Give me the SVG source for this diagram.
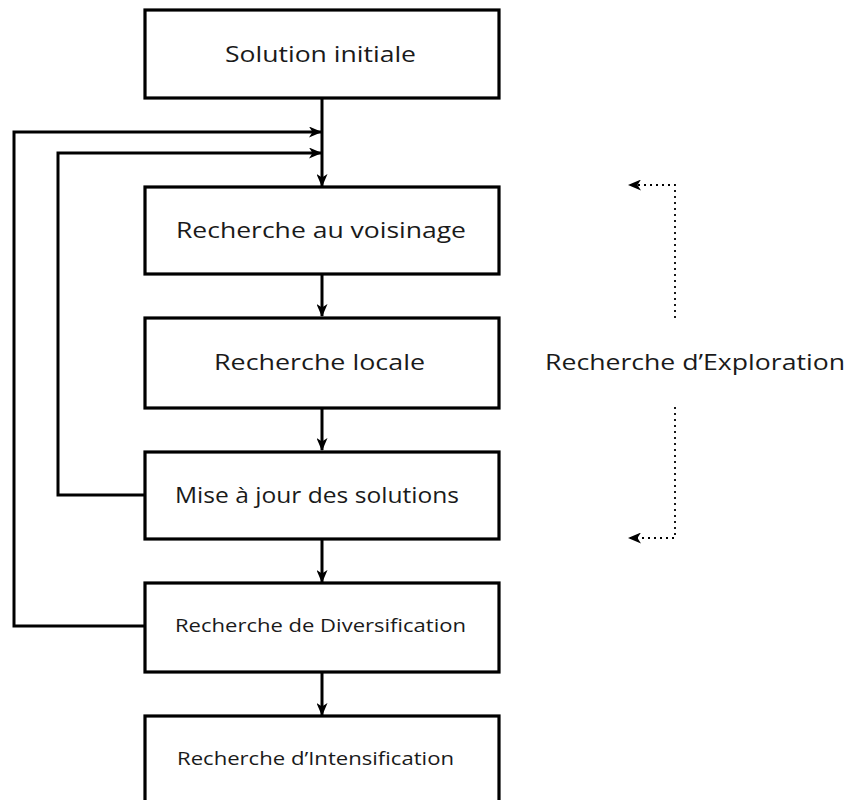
<svg xmlns="http://www.w3.org/2000/svg" width="848" height="800" viewBox="0 0 848 800">
  <style>
    .box { fill: #fff; stroke: #000; stroke-width: 3.2; }
    .lbl { font-family: "Open Sans", "Liberation Sans", sans-serif; font-size: 21px; fill: #1a1a1a; }
    .sm { font-size: 17.5px; }
    .wire { fill: none; stroke: #000; stroke-width: 3; }
    .dot { fill: none; stroke: #000; stroke-width: 1.8; stroke-dasharray: 2 4; }
  </style>
  <defs>
    <!-- notched arrowhead shared by all connectors -->
    <marker id="arr" viewBox="0 0 13 11" refX="12" refY="5.5" markerWidth="13" markerHeight="11" markerUnits="userSpaceOnUse" orient="auto">
      <path d="M0,0 L13,5.5 L0,11 L3.5,5.5 Z" fill="#000"/>
    </marker>
  </defs>

  <rect width="848" height="800" fill="#fff"/>

  <g id="connectors">
    <line class="wire" x1="322" y1="98" x2="322" y2="186" marker-end="url(#arr)"/>
    <polyline class="wire" points="145,626 14,626 14,132 321,132" marker-end="url(#arr)"/>
    <polyline class="wire" points="145,495 58,495 58,153 321,153" marker-end="url(#arr)"/>
    <line class="wire" x1="322" y1="274" x2="322" y2="316" marker-end="url(#arr)"/>
    <line class="wire" x1="322" y1="408" x2="322" y2="450" marker-end="url(#arr)"/>
    <line class="wire" x1="322" y1="539" x2="322" y2="582" marker-end="url(#arr)"/>
    <line class="wire" x1="322" y1="672" x2="322" y2="715" marker-end="url(#arr)"/>
    <polyline class="dot" points="675,318 675,185 629,185" marker-end="url(#arr)"/>
    <polyline class="dot" points="675,407 675,538 629,538" marker-end="url(#arr)"/>
  </g>

  <g id="solution-initiale">
    <rect class="box" x="145" y="10" width="354" height="88"/>
    <text class="lbl" x="225" y="62" textLength="191" lengthAdjust="spacingAndGlyphs">Solution initiale</text>
  </g>
  <g id="recherche-voisinage">
    <rect class="box" x="145" y="187" width="354" height="87"/>
    <text class="lbl" x="176" y="238" textLength="290" lengthAdjust="spacingAndGlyphs">Recherche au voisinage</text>
  </g>
  <g id="recherche-locale">
    <rect class="box" x="145" y="318" width="354" height="90"/>
    <text class="lbl" x="214" y="370" textLength="211" lengthAdjust="spacingAndGlyphs">Recherche locale</text>
  </g>
  <g id="mise-a-jour">
    <rect class="box" x="145" y="452" width="354" height="87"/>
    <text class="lbl" x="175" y="503" textLength="284" lengthAdjust="spacingAndGlyphs">Mise à jour des solutions</text>
  </g>
  <g id="recherche-diversification">
    <rect class="box" x="145" y="583" width="354" height="89"/>
    <text class="lbl sm" x="175" y="632" textLength="291" lengthAdjust="spacingAndGlyphs">Recherche de Diversification</text>
  </g>
  <g id="recherche-intensification">
    <rect class="box" x="145" y="716" width="354" height="100"/>
    <text class="lbl sm" x="177" y="765" textLength="277" lengthAdjust="spacingAndGlyphs">Recherche d’Intensification</text>
  </g>
  <g id="recherche-exploration">
    <text class="lbl" x="545" y="370" textLength="300" lengthAdjust="spacingAndGlyphs">Recherche d’Exploration</text>
  </g>
</svg>
